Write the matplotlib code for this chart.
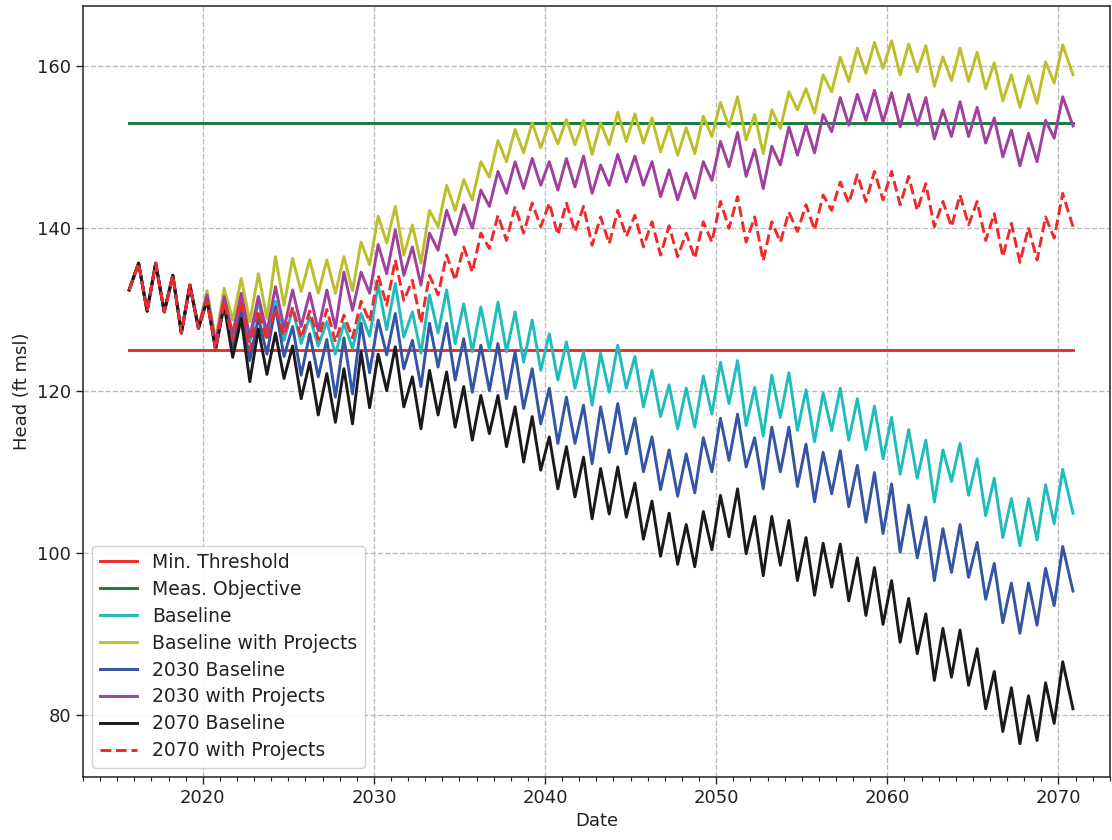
import numpy as np
import matplotlib
matplotlib.use("Agg")
import matplotlib.pyplot as plt
from matplotlib.ticker import MultipleLocator

# ---------------- data ----------------
start_year = 2015.7
start_value = 132.4
# common history, peaks (~Apr) and troughs (~Oct) for 2016-2019
early_years = [2016, 2017, 2018, 2019]
early_peaks = [135.7, 135.7, 134.2, 133.0]
early_troughs = [129.8, 129.7, 127.1, 127.7]

years = list(range(2020, 2071))   # 2020 ... 2070
end_year = 2070.85

min_threshold = 125.0
meas_objective = 153.0

baseline_peaks = [131.8, 131.6, 131.5, 131.0, 131.0, 130.0, 129.1, 128.5, 128.3, 129.5,
                  133.0, 133.2, 129.7, 131.8, 132.4, 130.7, 130.3, 130.9, 129.7, 128.7,
                  127.0, 126.0, 124.8, 124.6, 125.6, 124.2, 122.5, 120.7, 120.3, 121.8,
                  123.5, 123.7, 120.4, 121.9, 122.2, 120.1, 119.7, 120.3, 119.0, 118.1,
                  116.7, 115.2, 113.9, 112.7, 113.5, 111.6, 109.2, 106.7, 106.7, 108.4,
                  110.3]
baseline_troughs = [125.6, 126.3, 126.0, 126.5, 126.2, 125.8, 125.5, 124.5, 125.2, 126.7,
                    127.5, 126.6, 124.6, 127.1, 125.8, 124.8, 125.0, 124.8, 123.5, 122.5,
                    121.3, 120.3, 118.2, 119.8, 120.3, 118.0, 116.8, 115.3, 115.5, 117.1,
                    118.4, 115.7, 114.4, 116.7, 115.1, 113.7, 115.1, 113.9, 112.7, 111.6,
                    109.7, 109.2, 106.3, 108.8, 107.1, 104.6, 101.9, 100.9, 101.6, 103.6,
                    104.9]

bwp_peaks = [132.3, 132.6, 133.8, 134.4, 136.5, 136.3, 136.1, 136.1, 136.5, 138.3,
             141.5, 142.7, 140.4, 142.2, 145.3, 146.0, 148.2, 150.8, 152.2, 153.0,
             153.0, 153.4, 153.3, 153.0, 154.3, 154.1, 153.6, 152.7, 152.4, 153.8,
             155.5, 156.2, 154.0, 154.6, 156.8, 157.2, 158.9, 161.1, 162.2, 162.9,
             163.1, 162.7, 162.5, 161.1, 162.2, 161.7, 160.4, 158.9, 158.8, 160.5,
             162.6]
bwp_troughs = [126.3, 128.7, 128.5, 128.9, 130.5, 132.2, 132.0, 132.0, 132.3, 135.5,
               138.2, 136.7, 135.7, 140.2, 142.2, 143.5, 146.3, 148.2, 149.3, 149.9,
               150.4, 150.3, 149.1, 150.3, 150.7, 150.5, 149.4, 149.0, 149.2, 151.3,
               152.5, 150.9, 149.2, 152.3, 154.6, 154.2, 156.8, 158.1, 159.1, 159.7,
               158.9, 159.3, 157.5, 158.2, 158.1, 157.2, 155.7, 154.9, 155.4, 157.9,
               158.9]

b2030_peaks = [131.3, 130.8, 130.1, 129.0, 130.3, 127.9, 127.0, 126.3, 126.5, 128.3,
               128.7, 129.5, 126.2, 128.3, 128.3, 126.4, 125.6, 125.8, 124.8, 122.7,
               120.3, 119.2, 118.2, 118.0, 118.4, 116.6, 114.3, 112.7, 112.2, 114.2,
               116.6, 117.1, 114.2, 115.5, 115.5, 113.4, 112.4, 112.6, 110.8, 109.9,
               108.5, 105.9, 104.4, 103.0, 103.5, 101.3, 98.7, 96.3, 96.3, 98.1,
               100.8]
b2030_troughs = [125.2, 125.0, 123.7, 124.5, 124.2, 121.9, 121.7, 119.2, 119.6, 122.2,
                 124.4, 122.7, 120.5, 122.9, 121.3, 119.8, 120.0, 119.0, 117.8, 115.9,
                 113.5, 113.5, 111.0, 112.4, 112.2, 110.0, 107.8, 107.0, 107.4, 110.0,
                 111.4, 110.6, 107.9, 110.0, 108.2, 106.3, 107.3, 105.7, 103.8, 102.4,
                 100.1, 99.4, 96.6, 97.6, 97.0, 94.3, 91.4, 90.1, 91.1, 93.5,
                 95.3]

p2030_peaks = [131.8, 131.6, 132.0, 131.6, 132.8, 132.4, 132.0, 132.4, 134.6, 134.6,
               138.0, 139.8, 137.7, 139.4, 142.2, 142.9, 144.7, 147.0, 148.2, 148.6,
               148.2, 148.6, 148.9, 147.8, 149.1, 148.9, 148.2, 147.2, 146.8, 148.2,
               150.7, 151.8, 149.7, 150.1, 152.5, 152.7, 154.0, 156.1, 156.5, 157.0,
               156.7, 156.5, 156.1, 154.6, 155.6, 154.9, 153.6, 152.1, 151.7, 153.3,
               156.2]
p2030_troughs = [125.8, 127.0, 126.6, 127.2, 127.7, 127.9, 127.4, 127.7, 129.9, 132.0,
                 134.4, 134.2, 133.0, 137.3, 139.2, 140.0, 142.7, 144.3, 144.9, 145.3,
                 144.7, 145.1, 144.3, 145.3, 145.7, 145.3, 143.9, 143.5, 143.7, 145.9,
                 147.6, 146.4, 144.9, 147.8, 149.0, 149.3, 151.9, 152.7, 153.3, 153.1,
                 152.5, 152.7, 151.0, 151.3, 151.3, 150.5, 148.8, 147.7, 148.2, 151.1,
                 152.6]

b2070_peaks = [131.1, 130.5, 128.9, 127.6, 127.1, 125.5, 123.5, 122.1, 122.7, 124.8,
               124.5, 125.4, 121.7, 122.5, 122.3, 120.5, 119.4, 119.4, 118.0, 116.8,
               114.3, 113.1, 111.8, 110.4, 110.6, 108.6, 106.4, 104.9, 103.5, 105.1,
               107.1, 107.9, 104.5, 104.5, 104.0, 101.9, 101.2, 101.1, 99.4, 98.2,
               96.6, 94.4, 92.5, 90.7, 90.5, 88.2, 85.4, 83.4, 82.4, 84.0,
               86.6]
b2070_troughs = [125.0, 124.1, 121.1, 122.0, 121.5, 119.0, 117.0, 116.1, 115.9, 117.9,
                 120.0, 118.0, 115.3, 117.0, 115.5, 113.9, 114.7, 113.1, 111.2, 110.2,
                 107.9, 106.9, 104.2, 104.8, 104.4, 101.7, 99.6, 98.6, 98.3, 100.4,
                 102.0, 99.9, 97.2, 98.5, 96.6, 94.8, 95.8, 94.1, 92.3, 91.2,
                 89.0, 87.6, 84.3, 84.7, 83.7, 80.8, 78.0, 76.5, 76.9, 79.0,
                 80.8]

p2070_peaks = [131.1, 131.0, 131.0, 129.9, 130.1, 130.3, 129.8, 130.0, 129.3, 131.0,
               134.2, 136.1, 133.6, 134.2, 136.7, 137.7, 139.4, 141.6, 142.7, 143.1,
               143.1, 143.1, 142.7, 141.4, 142.2, 141.6, 140.8, 140.3, 139.4, 140.8,
               143.3, 143.9, 141.4, 140.8, 142.0, 142.9, 144.1, 145.7, 146.6, 147.0,
               147.0, 146.4, 145.5, 143.3, 144.1, 143.3, 141.8, 140.6, 140.1, 141.4,
               144.3]
p2070_troughs = [125.0, 126.2, 125.0, 126.2, 126.8, 126.5, 126.3, 126.0, 126.5, 128.5,
                 130.5, 131.1, 128.3, 131.8, 133.6, 134.6, 137.5, 138.5, 139.4, 140.2,
                 139.2, 139.6, 137.9, 138.1, 139.0, 137.7, 136.7, 136.5, 136.3, 138.3,
                 140.0, 138.3, 136.0, 138.3, 139.6, 139.8, 142.2, 143.1, 143.3, 143.5,
                 142.9, 142.2, 140.2, 140.2, 140.4, 138.5, 136.5, 135.8, 136.1, 138.8,
                 140.2]

labels = ["Min. Threshold", "Meas. Objective", "Baseline", "Baseline with Projects",
          "2030 Baseline", "2030 with Projects", "2070 Baseline", "2070 with Projects"]
colors = ["#ee2a2a", "#187c3c", "#1fbcbc", "#bcbf2c", "#3454a4", "#a0409c", "#1a1a1a", "#ee2a2a"]


def build(peaks, troughs):
    t = [start_year]
    v = [start_value]
    for y, p, tr in zip(early_years, early_peaks, early_troughs):
        t += [y + 0.25, y + 0.75]
        v += [p, tr]
    for i, (y, p, tr) in enumerate(zip(years, peaks, troughs)):
        t.append(y + 0.25)
        v.append(p)
        t.append(end_year if i == len(years) - 1 else y + 0.75)
        v.append(tr)
    return np.array(t), np.array(v)


plt.rcParams['font.family'] = ['DejaVu Sans']
fig = plt.figure(figsize=(11.12, 8.4), dpi=100)
ax = fig.add_axes([0.0746, 0.075, 0.9234, 0.918])

lw = 2.1
ax.plot([start_year, end_year], [min_threshold, min_threshold], color=colors[0], lw=lw, label=labels[0])
ax.plot([start_year, end_year], [meas_objective, meas_objective], color=colors[1], lw=lw, label=labels[1])

series = [(baseline_peaks, baseline_troughs), (bwp_peaks, bwp_troughs),
          (b2030_peaks, b2030_troughs), (p2030_peaks, p2030_troughs),
          (b2070_peaks, b2070_troughs), (p2070_peaks, p2070_troughs)]
for k, (pk, tr) in enumerate(series):
    t, v = build(pk, tr)
    ls = '--' if k == 5 else '-'
    ax.plot(t, v, color=colors[k + 2], lw=lw, ls=ls, label=labels[k + 2],
            solid_joinstyle='round', dash_joinstyle='round')

ax.set_xlim(2013.0, 2073.0)
ax.set_ylim(72.4, 167.4)
ax.xaxis.set_major_locator(MultipleLocator(10))
ax.xaxis.set_minor_locator(MultipleLocator(1))
ax.yaxis.set_major_locator(MultipleLocator(20))
ax.grid(True, which='major', ls='--', color='#bdbdbd', lw=1.0)
ax.tick_params(axis='both', which='major', labelsize=13, length=5, width=1, direction='out', color='#222222')
ax.tick_params(axis='x', which='minor', length=3, width=0.8, color='#222222')
for s in ax.spines.values():
    s.set_color('#222222')
    s.set_linewidth(1.1)
ax.set_xlabel("Date", fontsize=13, color='#222222')
ax.set_ylabel("Head (ft msl)", fontsize=13, color='#222222')
for lab in ax.get_xticklabels() + ax.get_yticklabels():
    lab.set_color('#222222')
leg = ax.legend(loc='lower left', fontsize=13.5, frameon=True, fancybox=True,
                edgecolor='#cccccc', framealpha=0.9, labelspacing=0.42)
for txt in leg.get_texts():
    txt.set_color('#222222')

fig.savefig("out.png", dpi=100)
